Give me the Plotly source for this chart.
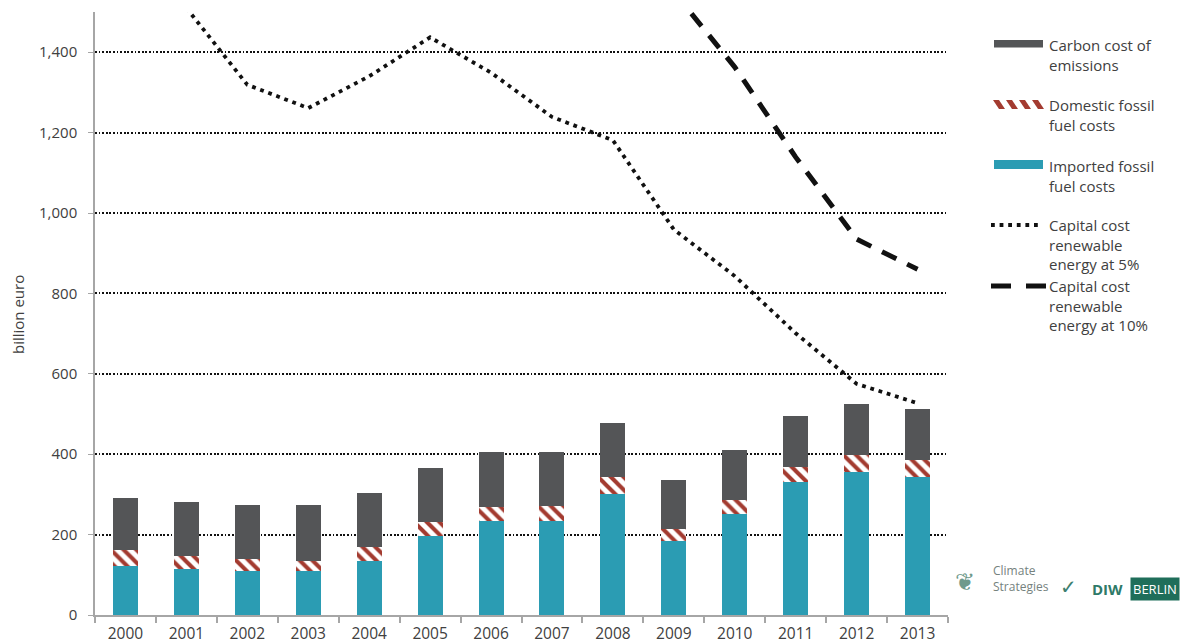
import plotly.graph_objects as go

# ---- data (billion euro) ----
years = ["2000", "2001", "2002", "2003", "2004", "2005", "2006",
         "2007", "2008", "2009", "2010", "2011", "2012", "2013"]
imported_fossil = [122, 114, 109, 109, 134, 196, 234, 234, 301, 184, 251, 331, 356, 343]
domestic_fossil = [40, 33, 30, 25, 35, 35, 35, 37, 42, 30, 35, 37, 42, 42]
carbon_cost = [129, 134, 134, 139, 134, 135, 136, 134, 134, 122, 124, 127, 127, 127]
capital_5pct = [None, 1510, 1319, 1261, 1340, 1437, 1349, 1239, 1181, 959, 843, 701, 575, 527]
capital_10pct = [None, None, None, None, None, None, None, None, None, 1550, 1363, 1139, 935, 860]
y_ticks = [0, 200, 400, 600, 800, 1000, 1200, 1400]

# ---- style ----
FONT = "Open Sans"
TXT = "#404040"
AXIS_GREY = "#a6a6a6"
C_CARBON = "#545557"
C_HATCH = "#a33b30"
C_IMPORT = "#2b9cb3"

W_PX, H_PX = 1188, 644
M_L, M_R, M_T, M_B = 95, 240, 12, 29
PLOT_W = W_PX - M_L - M_R
PLOT_H = H_PX - M_T - M_B


def px_x(px):
    return (px - M_L) / PLOT_W


def px_y(py):
    return (H_PX - M_B - py) / PLOT_H


fig = go.Figure()

fig.add_trace(go.Bar(
    x=years, y=imported_fossil, name="Imported fossil fuel costs",
    marker=dict(color=C_IMPORT, line=dict(width=0)), width=0.41,
))
fig.add_trace(go.Bar(
    x=years, y=domestic_fossil, name="Domestic fossil fuel costs",
    marker=dict(color="white", line=dict(width=0),
                pattern=dict(shape="\\", fgcolor=C_HATCH, bgcolor="white",
                             size=9, solidity=0.45, fillmode="replace")),
    width=0.41,
))
fig.add_trace(go.Bar(
    x=years, y=carbon_cost, name="Carbon cost of emissions",
    marker=dict(color=C_CARBON, line=dict(width=0)), width=0.41,
))
fig.add_trace(go.Scatter(
    x=years, y=capital_5pct, mode="lines", name="Capital cost renewable energy at 5%",
    line=dict(color="#111111", width=3.8, dash="3.8px,4.8px"), connectgaps=False,
))
fig.add_trace(go.Scatter(
    x=years, y=capital_10pct, mode="lines", name="Capital cost renewable energy at 10%",
    line=dict(color="#111111", width=5, dash="16px,12px"), connectgaps=False,
))

# ---- custom legend on the right ----
shapes = []
annotations = []
SX0, SX1 = 994, 1043
TX = 1047
LEG_SIZE = 15


def legend_text(text, y_top):
    annotations.append(dict(
        x=px_x(TX), y=px_y(y_top), xref="paper", yref="paper",
        text=text, showarrow=False, xanchor="left", yanchor="top", align="left",
        font=dict(family=FONT, size=LEG_SIZE, color=TXT),
    ))


# carbon cost swatch
shapes.append(dict(type="rect", xref="paper", yref="paper",
                   x0=px_x(SX0), x1=px_x(SX1), y0=px_y(47.5), y1=px_y(40),
                   fillcolor=C_CARBON, line=dict(width=0)))
legend_text("Carbon cost of<br>emissions", 33)

# domestic fossil swatch: slanted stripes
for k in range(4):
    x0 = 993 + k * 13
    pth = "M{a},{ya} L{b},{ya} L{c},{yb} L{d},{yb} Z".format(
        a=px_x(x0), b=px_x(x0 + 6), c=px_x(x0 + 12), d=px_x(x0 + 6),
        ya=px_y(100), yb=px_y(109))
    shapes.append(dict(type="path", xref="paper", yref="paper", path=pth,
                       fillcolor=C_HATCH, line=dict(width=0)))
legend_text("Domestic fossil<br>fuel costs", 93)

# imported fossil swatch
shapes.append(dict(type="rect", xref="paper", yref="paper",
                   x0=px_x(SX0), x1=px_x(SX1), y0=px_y(169), y1=px_y(160),
                   fillcolor=C_IMPORT, line=dict(width=0)))
legend_text("Imported fossil<br>fuel costs", 154)

# 5% dotted swatch
shapes.append(dict(type="line", xref="paper", yref="paper",
                   x0=px_x(991), x1=px_x(1038), y0=px_y(225), y1=px_y(225),
                   line=dict(color="#111111", width=3.8, dash="3.8px,4.8px")))
legend_text("Capital cost<br>renewable<br>energy at 5%", 213)

# 10% dashed swatch
shapes.append(dict(type="line", xref="paper", yref="paper",
                   x0=px_x(991), x1=px_x(1046), y0=px_y(286), y1=px_y(286),
                   line=dict(color="#111111", width=5, dash="20px,15px")))
legend_text("Capital cost<br>renewable<br>energy at 10%", 274)

# y-axis title
annotations.append(dict(
    x=px_x(18), y=px_y(315), xref="paper", yref="paper", text="billion euro",
    textangle=-90, showarrow=False, xanchor="center", yanchor="middle",
    font=dict(family=FONT, size=15, color=TXT),
))

# partner marks, bottom right
annotations += [
    dict(x=px_x(977), y=px_y(598), xref="paper", yref="paper", text="❦",
         showarrow=False, font=dict(family="DejaVu Sans", size=24, color="#6f9a8c")),
    dict(x=px_x(991), y=px_y(597), xref="paper", yref="paper",
         text="Climate<br>Strategies", align="left", showarrow=False, xanchor="left",
         font=dict(family=FONT, size=12, color="#75827e")),
    dict(x=px_x(1079), y=px_y(601), xref="paper", yref="paper", text="✓",
         showarrow=False, font=dict(family="DejaVu Sans", size=20, color="#3d7f70")),
    dict(x=px_x(1090), y=px_y(601), xref="paper", yref="paper", text="<b>DIW</b>",
         showarrow=False, xanchor="left", font=dict(family=FONT, size=15, color="#2e7a68")),
    dict(x=px_x(1130), y=px_y(601), xref="paper", yref="paper", text="BERLIN",
         showarrow=False, xanchor="left", bgcolor="#1f6e5a", borderpad=2,
         font=dict(family=FONT, size=13, color="white")),
]

fig.update_layout(
    width=W_PX, height=H_PX,
    margin=dict(l=M_L, r=M_R, t=M_T, b=M_B),
    barmode="stack", bargap=0.59,
    paper_bgcolor="white", plot_bgcolor="white",
    showlegend=False,
    font=dict(family=FONT, size=15, color=TXT),
    shapes=shapes, annotations=annotations,
)
fig.update_xaxes(
    type="category", showgrid=False, showline=True, linecolor=AXIS_GREY, linewidth=1.5,
    ticks="outside", tickson="boundaries", ticklen=6, tickcolor=AXIS_GREY, tickwidth=1.5,
    ticklabelstandoff=4,
    tickfont=dict(family=FONT, size=15.5, color=TXT), automargin=False,
)
fig.update_yaxes(
    range=[0, 1500], tickvals=y_ticks, ticktext=[f"{v:,}" for v in y_ticks],
    showgrid=True, gridcolor="#111111", gridwidth=1.6, griddash="1.8px,1.8px",
    zeroline=False, showline=True, linecolor=AXIS_GREY, linewidth=1.5,
    ticks="outside", ticklen=5, tickcolor=AXIS_GREY, tickwidth=1.2,
    ticklabelstandoff=8, automargin=False,
    tickfont=dict(family=FONT, size=15, color=TXT),
)

fig.write_html("out.html")
